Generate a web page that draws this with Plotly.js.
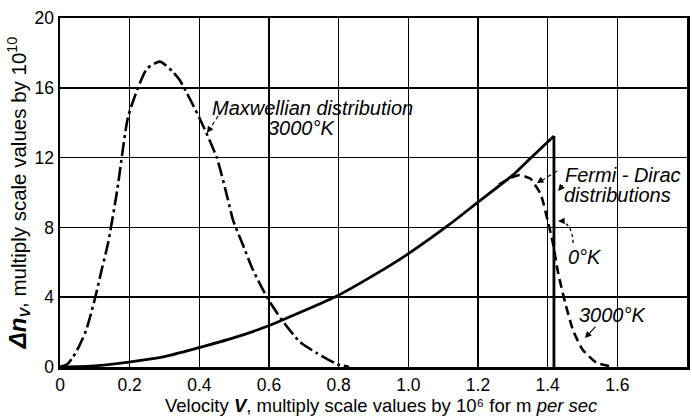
<!DOCTYPE html>
<html><head><meta charset="utf-8">
<script src="https://cdn.plot.ly/plotly-3.0.1.min.js"></script>
<style>html,body{margin:0;padding:0;background:#fff}#chart{width:692px;height:417px}</style>
</head><body><div id="chart"></div>
<script>
// Maxwellian distribution, 3000 K
const maxwellV = [0, 0.02, 0.037, 0.055, 0.075, 0.10, 0.12, 0.138, 0.164, 0.195, 0.224, 0.25, 0.287, 0.325, 0.345, 0.402, 0.45, 0.482, 0.497, 0.525, 0.554, 0.597, 0.637, 0.689, 0.737, 0.795, 0.83];
const maxwellN = [0, 0.15, 0.55, 1.2, 2.1, 3.9, 5.6, 7.1, 10.1, 14.3, 16.0, 17.1, 17.5, 16.9, 16.4, 14.2, 12.0, 9.6, 8.4, 7.0, 5.56, 3.9, 2.7, 1.43, 0.8, 0.17, 0];
// Fermi-Dirac distribution, 0 K (rising branch, then vertical drop at the Fermi velocity)
const fd0V = [0, 0.1, 0.192, 0.3, 0.388, 0.5, 0.597, 0.7, 0.795, 0.9, 0.993, 1.12, 1.2, 1.30, 1.35, 1.418, 1.418];
const fd0N = [0, 0.07, 0.27, 0.6, 1.05, 1.68, 2.35, 3.22, 4.07, 5.25, 6.4, 8.2, 9.45, 11.0, 11.95, 13.24, 0];
// Fermi-Dirac distribution, 3000 K
const fd3000V = [1.26, 1.29, 1.32, 1.35, 1.38, 1.40, 1.415, 1.43, 1.45, 1.473, 1.50, 1.54, 1.59];
const fd3000N = [10.45, 10.8, 11.0, 10.8, 9.9, 8.4, 7.1, 5.4, 3.7, 2.1, 1.0, 0.25, 0];
// Tick labels
const xTickVals = [0, 0.2, 0.4, 0.6, 0.8, 1.0, 1.2, 1.4, 1.6, 1.8];
const xTickText = ['0', '0.2', '0.4', '0.6', '0.8', '1.0', '1.2', '1.4', '1.6', '1.8'];
const yTickVals = [0, 4, 8, 12, 16, 20];
const yTickText = ['0', '4', '8', '12', '16', '20'];
const xTitleText = 'Velocity <b><i>V</i></b>, multiply scale values by 10⁶ for m <i>per sec</i>';

const tickFont = {family: '"Liberation Sans Narrow", "Liberation Sans", Arial, sans-serif', size: 17.5, color: '#000'};
const titleFont = {family: '"Liberation Sans", Arial, sans-serif', size: 18.5, color: '#000'};
const yTitleFont = {family: '"Liberation Sans", Arial, sans-serif', size: 20.5, color: '#000'};
const noteFont = {family: '"Liberation Sans", Arial, sans-serif', size: 20, color: '#000'};

const nFd = fd0V.length;
const traces = [
  {x: maxwellV, y: maxwellN, mode: 'lines', line: {color: '#000', width: 2.6, dash: '14px,4px,3px,4px', shape: 'spline', smoothing: 0.6}, hoverinfo: 'skip'},
  {x: fd0V.slice(0, nFd - 1), y: fd0N.slice(0, nFd - 1), mode: 'lines', line: {color: '#000', width: 2.8, shape: 'spline', smoothing: 0.6}, hoverinfo: 'skip'},
  {x: fd0V.slice(nFd - 2), y: fd0N.slice(nFd - 2), mode: 'lines', line: {color: '#000', width: 2.8}, hoverinfo: 'skip'},
  {x: fd3000V, y: fd3000N, mode: 'lines', line: {color: '#000', width: 2.6, dash: '9px,5px', shape: 'spline', smoothing: 0.5}, hoverinfo: 'skip'}
];

function txt(t, x, y) {
  return {text: '<i>' + t + '</i>', x: x, y: y, xref: 'x', yref: 'y', showarrow: false, font: noteFont, xanchor: 'center', yanchor: 'middle'};
}
function head(x, y, ax, ay) {
  return {text: '', x: x, y: y, xref: 'x', yref: 'y', showarrow: true, ax: ax, ay: ay, arrowhead: 2, arrowsize: 1.2, arrowwidth: 1.1, arrowcolor: '#000', standoff: 0};
}

const annotations = [
  txt('Maxwellian distribution', 0.724, 14.84),
  txt('3000°K', 0.692, 13.7),
  txt('Fermi - Dirac', 1.615, 11.0),
  txt('distributions', 1.60, 9.86),
  txt('0°K', 1.507, 6.30),
  txt('3000°K', 1.585, 2.98),
  head(0.422, 13.41, 3.3, -5),
  head(1.369, 10.54, 5.1, -3.1),
  head(1.43, 10.09, 6, -7),
  head(1.4297, 8.367, 6, 0),
  head(1.507, 1.66, 12, -13),
  {text: xTitleText, xref: 'paper', yref: 'paper', x: 0.512, y: -0.109, xanchor: 'center', yanchor: 'middle', showarrow: false, borderpad: 0, font: titleFont}
];

const shapes = [
  {type: 'line', xref: 'x', yref: 'y', x0: 0.465, y0: 14.73, x1: 0.428, y1: 13.58, line: {color: '#000', width: 1.1, dash: '4px,3px'}},
  {type: 'line', xref: 'x', yref: 'y', x0: 1.427, y0: 11.23, x1: 1.378, y1: 10.63, line: {color: '#000', width: 1.1, dash: '4px,3px'}},
  {type: 'path', xref: 'x', yref: 'y', path: 'M 1.473,7.106 Q 1.47,8.31 1.4326,8.367', line: {color: '#000', width: 1.3, dash: 'dot'}}
];

const layout = {
  width: 692, height: 417,
  margin: {l: 60, r: 5, t: 18, b: 50},
  paper_bgcolor: '#fff', plot_bgcolor: '#fff',
  showlegend: false,
  xaxis: {
    range: [0, 1.8], tickvals: xTickVals, ticktext: xTickText, ticks: '',
    showgrid: true, gridcolor: '#000', gridwidth: 1.5, zeroline: false,
    showline: true, mirror: true, linecolor: '#000', linewidth: 2.5,
    tickfont: tickFont, fixedrange: true
  },
  yaxis: {
    range: [0, 20], tickvals: yTickVals, ticktext: yTickText, ticks: '',
    showgrid: true, gridcolor: '#000', gridwidth: 1.5, zeroline: false,
    showline: true, mirror: true, linecolor: '#000', linewidth: 2.5,
    tickfont: tickFont, fixedrange: true,
    title: {text: '<span style="font-size:24px"><b><i>Δn</i></b></span><sub><b><i>V</i></b></sub>, multiply scale values by 10<sup>10</sup>', font: yTitleFont, standoff: 3}
  },
  annotations: annotations,
  shapes: shapes
};

Plotly.newPlot('chart', traces, layout, {displayModeBar: false, staticPlot: true});
</script>
</body></html>
